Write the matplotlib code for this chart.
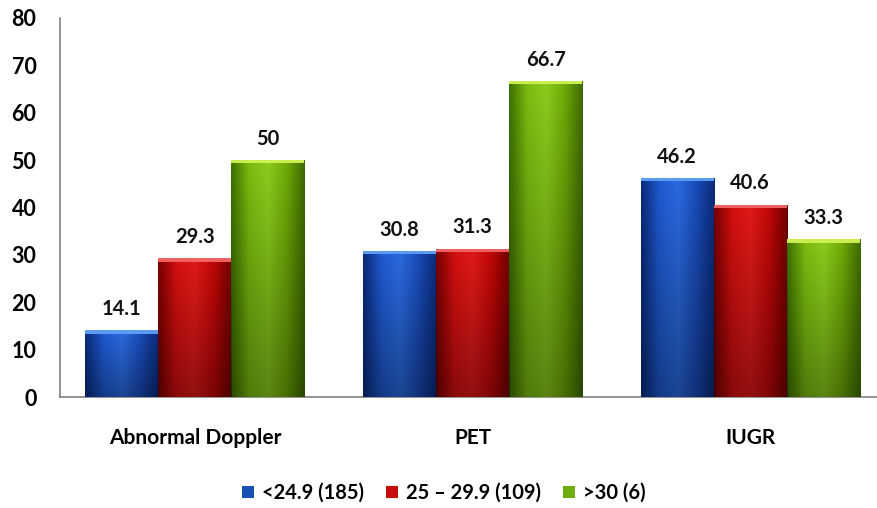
import numpy as np
import matplotlib
matplotlib.use("Agg")
import matplotlib.pyplot as plt
from matplotlib.colors import LinearSegmentedColormap
from matplotlib.patches import Patch

categories = ["Abnormal Doppler", "PET", "IUGR"]
series_names = ["<24.9 (185)", "25 \u2013 29.9 (109)", ">30 (6)"]
s_low = [14.1, 30.8, 46.2]
s_mid = [29.3, 31.3, 40.6]
s_high = [50, 66.7, 33.3]
yticks = [0, 10, 20, 30, 40, 50, 60, 70, 80]

series = [s_low, s_mid, s_high]
base_colors = ["#1a4fb8", "#c80a0a", "#6fae0a"]
grads = [
    ["#0a2a78", "#1f5ad0", "#2b6be0", "#1a4cb8", "#0a2a78"],
    ["#780000", "#d41010", "#e01a1a", "#c00808", "#700000"],
    ["#3f7000", "#7cbc10", "#8ccc1c", "#70aa08", "#3f6a00"],
]
tops = ["#5a9af0", "#f06060", "#c8ee50"]

plt.rcParams['font.family'] = ['Lato', 'DejaVu Sans']
fig = plt.figure(figsize=(8.77, 5.08), dpi=100)
ax = fig.add_axes([60/877, 111/508, 1 - 60/877, (397-18)/508])

x = np.arange(len(categories))
width = 0.263
offsets = [-width, 0, width]
vshade = LinearSegmentedColormap.from_list("vs", [(0, 0, 0, 0.35), (0, 0, 0, 0.0)])
for si, vals in enumerate(series):
    bars = ax.bar(x + offsets[si], vals, width, color=base_colors[si],
                  edgecolor="none", zorder=2, label=series_names[si])
    cmap = LinearSegmentedColormap.from_list("g%d" % si, grads[si])
    grad = np.linspace(0, 1, 256).reshape(1, -1)
    vgrad = np.linspace(0, 1, 256).reshape(-1, 1)
    for b, v in zip(bars, vals):
        x0, x1 = b.get_x(), b.get_x() + b.get_width()
        im = ax.imshow(grad, cmap=cmap, aspect="auto", extent=[x0, x1, 0, v],
                       zorder=3, interpolation="bilinear")
        im.set_clip_path(b)
        im2 = ax.imshow(vgrad, cmap=vshade, aspect="auto", extent=[x0, x1, v, 0],
                        zorder=3.5, interpolation="bilinear")
        im2.set_clip_path(b)
        ax.fill_between([x0, x1], [v - 0.7, v - 0.7], [v, v],
                        color=tops[si], zorder=4, linewidth=0)
        ax.text(b.get_x() + b.get_width() / 2, v + 2.4, f"{v:g}",
                ha="center", va="bottom", fontsize=14.5, fontweight="bold",
                color="#111111", zorder=5)

ax.set_xlim(-0.486, 2.457)
ax.set_ylim(0, 80)
ax.set_yticks(yticks)
ax.set_xticks(x)
ax.set_xticklabels(categories, fontsize=15, fontweight="bold")
for lab in ax.get_yticklabels():
    lab.set_fontweight("bold")
    lab.set_fontsize(15.5)
ax.tick_params(axis="y", length=0, pad=17)
ax.tick_params(axis="x", length=0, pad=22)
for sp in ["top", "right"]:
    ax.spines[sp].set_visible(False)
ax.spines["left"].set_color("#808080")
ax.spines["bottom"].set_color("#808080")
ax.spines["left"].set_linewidth(1.2)
ax.spines["bottom"].set_linewidth(1.2)
ax.set_facecolor("white")

handles = [Patch(facecolor=c, edgecolor="none") for c in base_colors]
fig.legend(handles, series_names, loc="center", bbox_to_anchor=(0.506, 15/508),
           ncol=3, frameon=False, prop={"weight": "bold", "size": 14.5},
           handlelength=0.6, handleheight=0.6, handletextpad=0.4, columnspacing=1.1)

fig.savefig("out.png", dpi=100)
